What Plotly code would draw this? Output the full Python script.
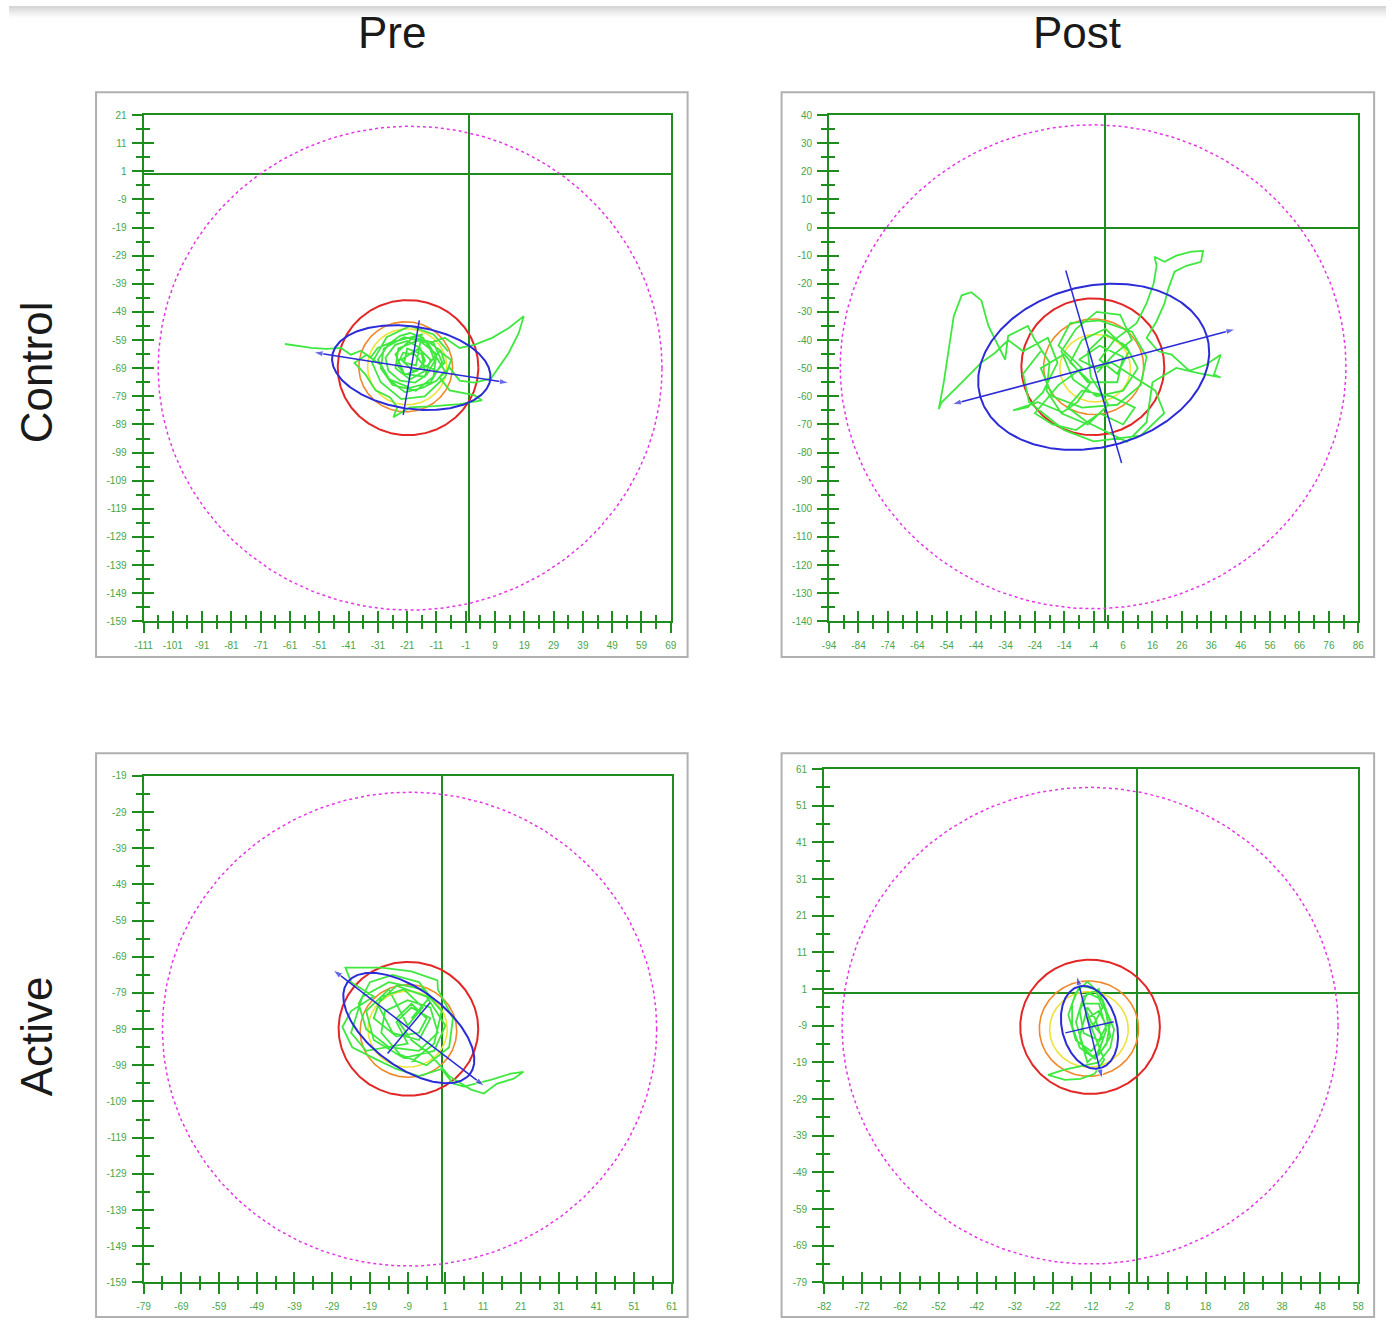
import numpy as np
import plotly.graph_objects as go

# ---------------- data ----------------
col_labels = ["Pre", "Post"]
row_labels = ["Control", "Active"]

x_ranges = [[-111, 69], [-94, 86], [-79, 61], [-82, 58]]
y_ranges = [[-159, 21], [-140, 40], [-159, -19], [-79, 61]]

# tick label values (every 10 units, labels as printed)
x_tickvals = [list(range(-111, 70, 10)), list(range(-94, 87, 10)), list(range(-79, 62, 10)), list(range(-82, 59, 10))]
y_tickvals = [list(range(-159, 22, 10)), list(range(-140, 41, 10)), list(range(-159, -18, 10)), list(range(-79, 62, 10))]

# confidence circles (center x, center y, radius) per panel
mag_cx = [-20.0, -4.2, -8.5, -12.3]
mag_cy = [-69.0, -49.5, -89.0, -9.0]
mag_r = [86.0, 86.0, 65.5, 65.0]

red_cx = [-20.7, -4.3, -8.8, -12.3]
red_cy = [-68.8, -49.5, -88.9, -9.3]
red_r = [24.0, 24.3, 18.5, 18.3]

org_cx = [-21.5, -4.0, -8.8, -12.6]
org_cy = [-68.5, -49.5, -89.5, -9.8]
org_r = [16.0, 17.0, 12.8, 13.0]

yel_cx = [-21.0, -3.5, -9.0, -12.6]
yel_cy = [-68.5, -50.0, -89.0, -10.0]
yel_r = [13.5, 12.0, 10.5, 10.3]

# blue ellipse: center, semi-axes, angle (deg), axis line half-lengths
ell_cx = [-19.6, -4.0, -8.7, -12.45]
ell_cy = [-68.8, -49.5, -88.7, -9.45]
ell_a = [27.3, 40.0, 20.6, 11.5]
ell_b = [14.6, 28.6, 10.5, 7.2]
ell_ang = [-9.3, 15.5, -38.7, 103.4]
ell_major_len = [33.8, 50.0, 25.7, 14.4]
ell_minor_len = [17.0, 35.5, 9.0, 6.5]

# sway trajectories
traj1_x = [-62.7, -58.7, -53.7, -48.6, -43.6, -40.2, -36.8, -33.5, -31.1, -26.8, -23.4, -20.0, -15.6, -13.3,
           -11.6, -14.3, -18.3, -23.4, -27.4, -28.4, -25.1, -21.0, -16.6, -14.9, -17.6, -21.7, -24.4, -22.4,
           -18.3, -15.6, -10.9, -8.2, -9.5, -13.3, -8.2, -3.1, 1.9, 8.0, 13.7, 18.8, 17.1, 13.7, 10.3, 7.6,
           1.9, -3.1, -6.5, -9.9, -6.5, 1.9, 4.5, -3.1, -11.6, -20.0, -25.7, -24.4, -26.8, -31.8, -35.2,
           -39.0, -34.8, -30.1, -26.8, -21.7, -15.6, -10.9, -8.2, -14.0, -22.0, -29.0, -30.0, -26.0, -18.0,
           -12.0, -11.0, -17.0, -24.0, -25.0, -20.0, -15.0, -16.0, -21.0, -22.0, -18.0,
           -16.0, -27.0, -31.0, -27.0, -20.0, -13.0, -9.0, -12.0, -19.0, -25.0, -22.0, -15.0, -13.0, -17.0,
           -23.0, -19.0, -14.0, -10.0, -6.0, -8.0, -15.0, -23.0, -30.0, -33.0, -28.0, -20.0, -12.0, -7.0]
traj1_y = [-60.4, -61.1, -61.8, -62.1, -61.8, -64.2, -62.8, -65.3, -61.8, -60.0, -57.5, -56.5, -58.2, -61.8,
           -66.4, -71.3, -74.1, -73.4, -69.9, -65.3, -60.7, -59.3, -61.8, -66.4, -69.9, -71.3, -67.8, -63.5,
           -64.2, -67.8, -69.9, -67.1, -62.8, -60.0, -58.2, -61.8, -60.7, -58.2, -54.7, -50.5, -56.5, -63.5,
           -68.8, -72.7, -74.1, -73.4, -68.8, -72.3, -76.9, -78.6, -80.4, -81.8, -82.5, -82.9, -86.4, -82.9,
           -79.4, -76.9, -71.3, -67.1, -64.2, -67.8, -73.4, -77.6, -75.9, -73.4, -69.9, -60.0, -58.0, -62.0,
           -69.0, -75.0, -77.0, -72.0, -64.0, -59.0, -62.0, -69.0, -73.0, -70.0, -64.0, -62.0, -67.0, -68.0,
           -57.0, -60.0, -66.0, -73.0, -76.0, -74.0, -67.0, -60.0, -58.0, -64.0, -71.0, -72.0, -66.0, -62.0,
           -66.0, -70.0, -68.0, -63.0, -66.0, -72.0, -79.0, -80.0, -74.0, -67.0, -58.0, -54.0, -57.0, -63.0]

traj2_x = [-2.8, 3.0, 9.0, 5.0, -3.0, -10.0, -15.0, -11.0, -3.0, 6.0, 11.0, 7.0, 0.0, -6.0, -5.0, 1.0, -6.0,
           -15.0, -20.0, -19.0, -24.0, -26.4, -33.1, -34.1, -39.8, -42.2, -45.6, -48.9, -51.6, -52.3, -53.3,
           -55.0, -56.7, -55.7, -48.9, -42.2, -37.5, -33.1, -28.0, -19.6, -16.3, -21.3, -26.4, -31.4, -23.0,
           -14.6, -9.6, -5.0, -12.0, -8.0, 0.0, 8.0, 4.0, -2.0, 3.0, 10.6, 14.0, 16.4, 17.4, 16.7, 20.1, 24.1,
           29.2, 33.2, 32.5, 27.5, 23.5, 21.4, 20.1, 17.4, 14.0, 18.0, 22.5, 28.5, 34.2, 39.2, 36.9, 39.2, 30.8,
           24.1, 16.0, 14.0, 7.3, 0.5, -6.2, -12.9, -8.0, 2.0, 10.0, 6.0, -2.0, -10.0, -18.0, -24.0, -16.0, -8.0,
           -8.0, -16.0, -12.0, -2.0, 9.0, 14.0, 12.0, 4.0, -8.0, -18.0, -22.0, -14.0, -6.0, 4.0, 6.0, -2.0,
           -9.0, -3.0, 2.0, 17.0, 20.0, 12.0, -4.0, -14.0, -26.0, -28.0, -22.0]
traj2_y = [-51.6, -45.0, -40.0, -31.0, -30.0, -36.0, -44.0, -54.0, -60.0, -58.0, -50.0, -42.0, -38.0, -44.0,
           -53.0, -63.0, -70.0, -66.0, -58.0, -48.0, -40.0, -35.0, -38.5, -47.0, -35.0, -25.9, -23.0, -24.1,
           -31.5, -36.4, -44.5, -55.1, -64.6, -62.1, -55.1, -48.0, -44.5, -40.0, -44.0, -39.2, -48.0, -58.6,
           -63.9, -65.0, -62.1, -65.7, -62.1, -55.0, -48.0, -40.0, -36.0, -44.0, -52.0, -47.0, -40.0, -34.0,
           -26.9, -19.9, -13.6, -10.4, -12.2, -10.0, -8.6, -8.3, -12.2, -13.6, -15.7, -21.7, -26.9, -33.3,
           -39.2, -44.0, -45.2, -50.9, -48.8, -45.2, -52.3, -53.3, -51.6, -49.9, -55.0, -69.2, -76.2, -72.7,
           -69.2, -63.9, -58.0, -60.0, -64.0, -70.0, -66.0, -72.0, -70.0, -66.0, -56.0, -50.0,
           -50.0, -42.0, -34.0, -33.0, -37.0, -46.0, -56.0, -63.0, -64.0, -60.0, -50.0, -45.0, -55.0, -55.0,
           -46.0, -42.0, -47.0, -50.0, -48.0, -58.0, -66.0, -74.0, -76.0, -72.0, -62.0, -52.0, -44.0]

traj3_x = [-8.0, -3.0, -6.0, -13.0, -19.0, -22.0, -20.0, -14.0, -6.0, -1.0, -3.0, -9.0, -15.0, -16.0, -11.0,
           -4.0, 2.0, 3.0, -1.0, -1.1, -8.0, -16.0, -25.5, -24.0, -18.0, -24.0, -26.3, -23.7, -18.0, -12.0,
           -6.0, 0.0, 3.0, 5.9, 13.0, 18.3, 21.7, 19.1, 14.6, 11.2, 7.8, 2.0, -3.0, -8.0, -12.0, -8.0, -4.0,
           -6.0, -12.0, -18.0, -16.0, -10.0, -5.0, -9.0,
           -14.0, -20.0, -18.0, -10.0, -2.0, 1.0, -4.0, -12.0, -17.0, -13.0, -6.0, -3.0, -8.0, -12.0, -9.0,
           -20.0, -24.0, -21.0, -14.0, -5.0, 0.0, -2.0, -8.0]
traj3_y = [-86.0, -80.0, -76.0, -74.0, -76.0, -82.0, -89.0, -94.0, -95.0, -90.0, -83.0, -81.0, -84.0, -90.0,
           -96.0, -99.0, -94.0, -86.0, -78.0, -75.5, -73.0, -72.0, -72.0, -76.0, -80.0, -84.0, -88.4, -94.0,
           -97.0, -100.0, -102.0, -100.0, -104.0, -104.9, -103.0, -101.3, -100.8, -102.7, -104.1, -106.8,
           -105.7, -102.0, -96.0, -92.0, -86.0, -82.0, -86.0, -90.0, -91.0, -86.0, -80.0, -78.0, -83.0, -88.0,
           -78.0, -84.0, -92.0, -97.0, -95.0, -88.0, -80.0, -77.0, -82.0, -90.0, -92.0, -86.0, -83.0, -87.0,
           -93.0, -95.0, -90.0, -80.0, -76.0, -78.0, -84.0, -93.0, -98.0]

traj4_x = [-12.0, -9.0, -11.0, -15.0, -17.0, -17.0, -15.0, -11.0, -8.0, -7.0, -9.0, -13.0, -15.0, -14.0,
           -10.0, -8.0, -10.0, -13.0, -11.0, -9.0, -8.6, -11.1, -14.8, -18.9, -23.3, -19.0, -14.0, -10.0,
           -7.0, -6.0, -8.0, -10.0, -13.0, -16.0, -18.0, -16.0, -12.0, -9.0, -12.0, -14.0,
           -10.0, -8.0, -10.0, -13.0, -15.0, -13.0, -11.0, -9.0, -11.0, -14.0, -16.0, -14.0, -10.0, -8.0,
           -7.0, -10.0]
traj4_y = [-10.0, -4.0, 1.0, 2.0, -3.0, -9.0, -15.0, -18.0, -14.0, -8.0, -2.0, 0.0, -5.0, -11.0, -13.0,
           -9.0, -5.0, -7.0, -12.0, -17.0, -18.3, -22.1, -23.5, -23.8, -22.4, -21.0, -20.0, -19.0, -15.0,
           -10.0, -5.0, 0.0, 3.0, 0.0, -6.0, -13.0, -16.0, -12.0, -8.0, -3.0,
           -3.0, -10.0, -16.0, -19.0, -12.0, -4.0, -7.0, -13.0, -18.0, -15.0, -8.0, -1.0, 1.0, -6.0,
           -12.0, -17.0]

traj_x = [traj1_x, traj2_x, traj3_x, traj4_x]
traj_y = [traj1_y, traj2_y, traj3_y, traj4_y]

# ---------------- layout geometry (target pixels) ----------------
W, H = 1392, 1326
pl = [136, 829, 136, 824]
pr = [669, 1364, 670, 1364]
pt = [110, 110, 777, 770]
pb = [621, 621, 1288, 1288]
box_l = [88, 781, 88, 781]
box_r = [686, 1380, 686, 1380]
box_t = [87, 87, 754, 754]
box_b = [657, 657, 1323, 1323]


def fx(px):
    return px / W


def fy(py):
    return 1 - py / H


GREEN = "#1f8c1f"
TICKTXT = "#48a648"
MAG = "#e536e5"
RED = "#e32626"
ORANGE = "#f0882a"
YELLOW = "#eee23a"
BLUE = "#2b2bd8"
TRAJ = "#3fe83f"

fig = go.Figure()
theta = np.linspace(0, 2 * np.pi, 361)


def circle(cx, cy, r):
    return cx + r * np.cos(theta), cy + r * np.sin(theta)


for k in range(4):
    xa = "x" if k == 0 else f"x{k+1}"
    ya = "y" if k == 0 else f"y{k+1}"
    common = dict(xaxis=xa, yaxis=ya, showlegend=False, hoverinfo="skip")

    x, y = circle(mag_cx[k], mag_cy[k], mag_r[k])
    fig.add_trace(go.Scatter(x=x, y=y, mode="lines", line=dict(color=MAG, width=1.5, dash="dot"), **common))
    x, y = circle(red_cx[k], red_cy[k], red_r[k])
    fig.add_trace(go.Scatter(x=x, y=y, mode="lines", line=dict(color=RED, width=2), **common))
    x, y = circle(org_cx[k], org_cy[k], org_r[k])
    fig.add_trace(go.Scatter(x=x, y=y, mode="lines", line=dict(color=ORANGE, width=1.6), **common))
    x, y = circle(yel_cx[k], yel_cy[k], yel_r[k])
    fig.add_trace(go.Scatter(x=x, y=y, mode="lines", line=dict(color=YELLOW, width=1.6), **common))

    fig.add_trace(go.Scatter(x=traj_x[k], y=traj_y[k], mode="lines",
                             line=dict(color=TRAJ, width=1.8), **common))

    # ellipse
    ang = np.deg2rad(ell_ang[k])
    ex = ell_cx[k] + ell_a[k] * np.cos(theta) * np.cos(ang) - ell_b[k] * np.sin(theta) * np.sin(ang)
    ey = ell_cy[k] + ell_a[k] * np.cos(theta) * np.sin(ang) + ell_b[k] * np.sin(theta) * np.cos(ang)
    fig.add_trace(go.Scatter(x=ex, y=ey, mode="lines", line=dict(color=BLUE, width=2), **common))

    # major axis with arrows
    for s in (1, -1):
        tx = ell_cx[k] + s * ell_major_len[k] * np.cos(ang)
        ty = ell_cy[k] + s * ell_major_len[k] * np.sin(ang)
        fig.add_trace(go.Scatter(x=[ell_cx[k], tx], y=[ell_cy[k], ty], mode="lines+markers",
                                 line=dict(color=BLUE, width=1.5),
                                 marker=dict(symbol="arrow", size=[0, 10], angleref="previous", color=BLUE),
                                 **common))
    # minor axis line
    mx = [ell_cx[k] - ell_minor_len[k] * np.cos(ang + np.pi / 2), ell_cx[k] + ell_minor_len[k] * np.cos(ang + np.pi / 2)]
    my = [ell_cy[k] - ell_minor_len[k] * np.sin(ang + np.pi / 2), ell_cy[k] + ell_minor_len[k] * np.sin(ang + np.pi / 2)]
    fig.add_trace(go.Scatter(x=mx, y=my, mode="lines", line=dict(color=BLUE, width=1.5), **common))

    # empty trace for overlay axes (inner half of crossing ticks)
    fig.add_trace(go.Scatter(x=[], y=[], xaxis=f"x{k+5}", yaxis=f"y{k+5}", showlegend=False))

layout = dict(width=W, height=H, margin=dict(l=0, r=0, t=0, b=0),
              paper_bgcolor="white", plot_bgcolor="white", showlegend=False)

for k in range(4):
    xn = "xaxis" if k == 0 else f"xaxis{k+1}"
    yn = "yaxis" if k == 0 else f"yaxis{k+1}"
    xid = "x" if k == 0 else f"x{k+1}"
    yid = "y" if k == 0 else f"y{k+1}"
    xdom = [fx(pl[k]), fx(pr[k])]
    ydom = [fy(pb[k]), fy(pt[k])]
    base = dict(showgrid=False, tickcolor=GREEN, tickwidth=1.5)
    layout[xn] = dict(base, domain=xdom, range=x_ranges[k], anchor=yid,
                      tickmode="array", tickvals=x_tickvals[k], ticktext=[str(v) for v in x_tickvals[k]],
                      ticks="outside", ticklen=10, showline=True, linecolor=GREEN, linewidth=2, mirror=True,
                      zeroline=True, zerolinecolor=GREEN, zerolinewidth=2,
                      minor=dict(dtick=5, tick0=x_ranges[k][0], ticks="outside", ticklen=6,
                                 tickcolor=GREEN, tickwidth=1.5),
                      tickfont=dict(size=10, color=TICKTXT, family="Liberation Sans"),
                      ticklabelstandoff=4)
    layout[yn] = dict(base, domain=ydom, range=y_ranges[k], anchor=xid,
                      tickmode="array", tickvals=y_tickvals[k], ticktext=[str(v) for v in y_tickvals[k]],
                      ticks="outside", ticklen=10, showline=True, linecolor=GREEN, linewidth=2, mirror=True,
                      zeroline=True, zerolinecolor=GREEN, zerolinewidth=2,
                      minor=dict(dtick=5, tick0=y_ranges[k][0], ticks="outside", ticklen=6,
                                 tickcolor=GREEN, tickwidth=1.5),
                      tickfont=dict(size=10, color=TICKTXT, family="Liberation Sans"),
                      ticklabelstandoff=3)
    layout[f"xaxis{k+5}"] = dict(base, overlaying=xid, range=x_ranges[k], anchor=f"y{k+5}",
                                 tickmode="array", tickvals=x_tickvals[k],
                                 ticks="inside", ticklen=10, showticklabels=False,
                                 showline=False, zeroline=False,
                                 minor=dict(dtick=5, tick0=x_ranges[k][0], ticks="inside", ticklen=6,
                                            tickcolor=GREEN, tickwidth=1.5))
    layout[f"yaxis{k+5}"] = dict(base, overlaying=yid, range=y_ranges[k], anchor=f"x{k+5}",
                                 tickmode="array", tickvals=y_tickvals[k],
                                 ticks="inside", ticklen=10, showticklabels=False,
                                 showline=False, zeroline=False,
                                 minor=dict(dtick=5, tick0=y_ranges[k][0], ticks="inside", ticklen=6,
                                            tickcolor=GREEN, tickwidth=1.5))

shapes = []
# top gray shading band
band_cols = ["#d6d6d6", "#dedede", "#e6e6e6", "#eeeeee", "#f5f5f5", "#fafafa"]
for i, c in enumerate(band_cols):
    shapes.append(dict(type="rect", xref="paper", yref="paper", x0=0, x1=1,
                       y0=fy((i + 1) * 2), y1=fy(i * 2), fillcolor=c, line=dict(width=0),
                       layer="below"))
for k in range(4):
    shapes.append(dict(type="rect", xref="paper", yref="paper",
                       x0=fx(box_l[k]), x1=fx(box_r[k]), y0=fy(box_b[k]), y1=fy(box_t[k]),
                       line=dict(color="#b0b0b0", width=2), layer="below"))
layout["shapes"] = shapes

ann = []
title_x = [387, 1080]
for i, t in enumerate(col_labels):
    ann.append(dict(text=t, x=fx(title_x[i]), y=fy(27), xref="paper", yref="paper",
                    showarrow=False, font=dict(size=44, color="#1a1a1a", family="Liberation Sans"),
                    xanchor="center", yanchor="middle"))
row_y = [370, 1040]
for i, t in enumerate(row_labels):
    ann.append(dict(text=t, x=fx(28), y=fy(row_y[i]), xref="paper", yref="paper",
                    showarrow=False, textangle=-90,
                    font=dict(size=44, color="#1a1a1a", family="Liberation Sans"),
                    xanchor="center", yanchor="middle"))
layout["annotations"] = ann

fig.update_layout(**layout)
fig.write_html("out.html", config={"displayModeBar": False},
               post_script="document.body.style.margin='0px';document.body.style.padding='0px';"
                           "document.documentElement.style.overflow='hidden';")
